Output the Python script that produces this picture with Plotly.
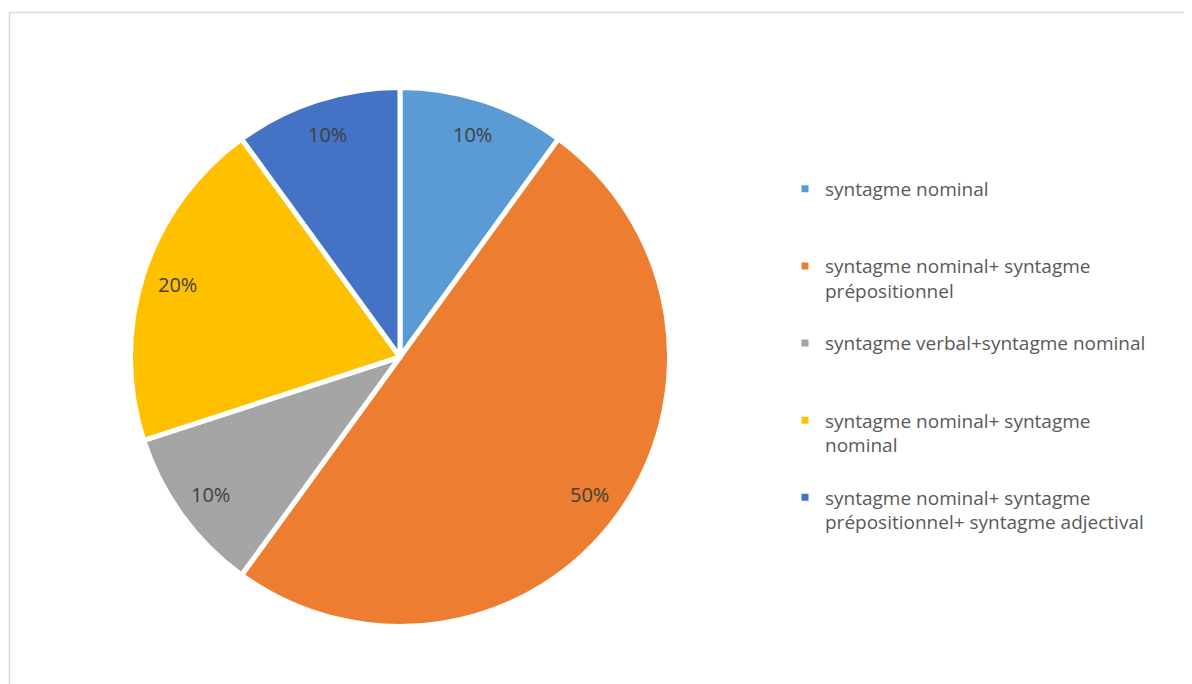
import math
import plotly.graph_objects as go

# ---- data ----
categories = [
    "syntagme nominal",
    "syntagme nominal+ syntagme prépositionnel",
    "syntagme verbal+syntagme nominal",
    "syntagme nominal+ syntagme nominal",
    "syntagme nominal+ syntagme prépositionnel+ syntagme adjectival",
]
legend_lines = [
    ["syntagme nominal"],
    ["syntagme nominal+ syntagme", "prépositionnel"],
    ["syntagme verbal+syntagme nominal"],
    ["syntagme nominal+ syntagme", "nominal"],
    ["syntagme nominal+ syntagme", "prépositionnel+ syntagme adjectival"],
]
values = [10, 50, 10, 20, 10]
colors = ["#5B9BD5", "#ED7D31", "#A5A5A5", "#FFC000", "#4472C4"]

# ---- layout geometry (pixels, figure coordinates; page has 8px body margin) ----
W, H = 1192, 684
OFF = 8
CX, CY, R = 400 - OFF, 357 - OFF, 269.5
LABEL_R = 0.87
FONT = "Open Sans"
FS_LABEL = 20
FS_LEGEND = 19

SLOTS = 3
labels = []
for lines in legend_lines:
    padded = lines + ["\u00a0"] * (SLOTS - len(lines))
    labels.append("<br>".join(padded))

total = sum(values)
fig = go.Figure(
    go.Pie(
        labels=labels,
        values=values,
        customdata=categories,
        sort=False,
        direction="clockwise",
        rotation=0,
        marker=dict(colors=colors, line=dict(color="#FFFFFF", width=5)),
        textinfo="none",
        hovertemplate="%{customdata}: %{percent}<extra></extra>",
        domain=dict(
            x=[(CX - R) / W, (CX + R) / W],
            y=[1 - (CY + R) / H, 1 - (CY - R) / H],
        ),
    )
)

# percentage labels placed from the data's cumulative angles
annotations = []
cum = 0
for v in values:
    mid = (cum + v / 2) / total * 2 * math.pi
    cum += v
    px = CX + LABEL_R * R * math.sin(mid)
    py = CY - LABEL_R * R * math.cos(mid)
    annotations.append(
        dict(
            x=px / W, y=1 - py / H, xref="paper", yref="paper",
            xanchor="center", yanchor="middle",
            text=f"{round(v / total * 100)}%", showarrow=False,
            font=dict(family=FONT, size=FS_LABEL, color="#404040"),
        )
    )

fig.update_layout(
    width=W,
    height=H,
    margin=dict(l=0, r=0, t=0, b=0),
    paper_bgcolor="white",
    plot_bgcolor="white",
    font=dict(family=FONT, color="#595959"),
    showlegend=True,
    legend=dict(
        x=(785 - OFF) / W, xanchor="left",
        y=1 - (170 - OFF) / H, yanchor="top",
        valign="top",
        font=dict(family=FONT, size=FS_LEGEND, color="#595959"),
        itemwidth=30,
        bgcolor="rgba(0,0,0,0)",
    ),
    annotations=annotations,
    shapes=[
        dict(
            type="rect", xref="paper", yref="paper",
            x0=(9.5 - OFF) / W, x1=1.02, y0=-0.02, y1=1 - (12.5 - OFF) / H,
            line=dict(color="#D9D9D9", width=1.5),
            fillcolor="rgba(0,0,0,0)", layer="below",
        )
    ],
)

fig.write_html("out.html")
